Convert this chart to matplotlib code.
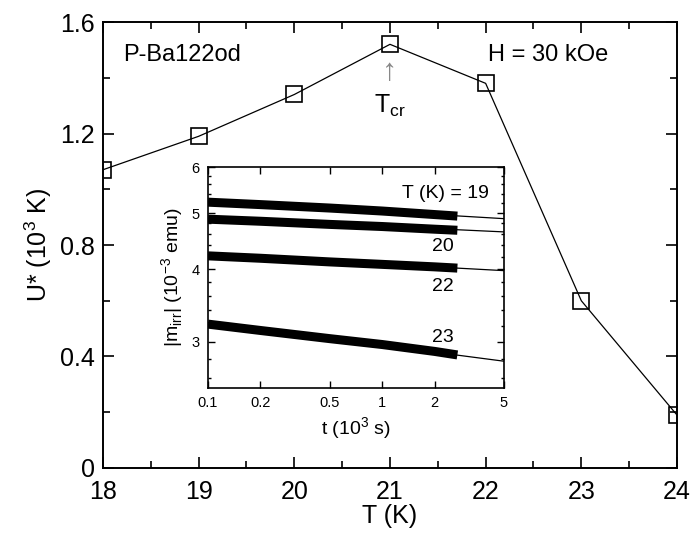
import matplotlib.pyplot as plt
from matplotlib.ticker import FixedLocator, NullFormatter

plt.rcParams['font.family'] = ['Liberation Sans', 'DejaVu Sans']
plt.rcParams['mathtext.fontset'] = 'custom'
plt.rcParams['mathtext.rm'] = 'Liberation Sans'

# -------------------------
# Data
# -------------------------
temps = [18, 19, 20, 21, 22, 23, 24]
u_star = [1.07, 1.19, 1.34, 1.52, 1.38, 0.60, 0.19]

# relaxation curves (inset)
t_meas = [0.1, 0.2, 0.5, 1.0, 2.0, 2.7]
m_19 = [5.22, 5.17, 5.10, 5.04, 4.97, 4.94]
m_20 = [4.88, 4.84, 4.78, 4.74, 4.69, 4.67]
m_22 = [4.22, 4.18, 4.12, 4.08, 4.04, 4.02]
m_23 = [3.22, 3.14, 3.04, 2.97, 2.89, 2.85]

t_fit = [0.1, 5.0]
fit_19 = [5.24, 4.89]
fit_20 = [4.90, 4.64]
fit_22 = [4.24, 3.98]
fit_23 = [3.24, 2.78]

inset_labels = ['T (K) = 19', '20', '22', '23']

# -------------------------
# Main plot
# -------------------------
fig = plt.figure(figsize=(6.92, 5.36), dpi=100)
ax = fig.add_axes([0.1488, 0.1269, 0.8295, 0.832])

ax.plot(temps, u_star, color='black', linewidth=0.9, marker='s', markersize=11,
        markerfacecolor='none', markeredgecolor='black', markeredgewidth=1.2, zorder=3)

ax.set_xlim(18, 24)
ax.set_ylim(0, 1.6)
ax.set_xticks([18, 19, 20, 21, 22, 23, 24])
ax.set_yticks([0, 0.4, 0.8, 1.2, 1.6])
ax.set_yticklabels(['0', '0.4', '0.8', '1.2', '1.6'])
ax.xaxis.set_minor_locator(FixedLocator([18.5, 19.5, 20.5, 21.5, 22.5, 23.5]))
ax.yaxis.set_minor_locator(FixedLocator([0.2, 0.6, 1.0, 1.4]))
ax.tick_params(which='both', direction='in', top=True, right=True, width=1.2)
ax.tick_params(which='major', length=8, labelsize=18)
ax.tick_params(axis='x', which='major', pad=9)
ax.tick_params(axis='y', which='major', pad=6)
ax.tick_params(which='minor', length=5)
for sp in ax.spines.values():
    sp.set_linewidth(1.4)

ax.set_xlabel('T (K)', fontsize=18, labelpad=0)
ax.set_ylabel(r'U* (10$^{3}$ K)', fontsize=18, labelpad=4)

ax.text(0.035, 0.925, 'P-Ba122od', transform=ax.transAxes, fontsize=17, va='center')
ax.text(0.67, 0.925, 'H = 30 kOe', transform=ax.transAxes, fontsize=17, va='center')
ax.text(21, 1.42, '\u2191', ha='center', va='center', fontsize=22, color='#888888')
ax.text(21, 1.30, r'T$_{\rm cr}$', ha='center', va='center', fontsize=18)

# -------------------------
# Inset
# -------------------------
ins = fig.add_axes([0.3006, 0.2761, 0.4277, 0.4123])
for m_vals, fit_vals in [(m_19, fit_19), (m_20, fit_20), (m_22, fit_22), (m_23, fit_23)]:
    ins.plot(t_fit, fit_vals, color='black', linewidth=0.9)
    ins.plot(t_meas, m_vals, color='black', linewidth=6.5, solid_capstyle='butt')

ins.set_xscale('log')
ins.set_yscale('log')
ins.set_xlim(0.1, 5)
ins.set_ylim(2.5, 6)
ins.xaxis.set_major_locator(FixedLocator([0.1, 0.2, 0.5, 1, 2, 5]))
ins.set_xticklabels(['0.1', '0.2', '0.5', '1', '2', '5'])
ins.xaxis.set_minor_formatter(NullFormatter())
ins.xaxis.set_minor_locator(FixedLocator([]))
ins.yaxis.set_major_locator(FixedLocator([3, 4, 5, 6]))
ins.set_yticklabels(['3', '4', '5', '6'])
ins.yaxis.set_minor_locator(FixedLocator([2.6, 2.8, 3.2, 3.4, 3.6, 3.8, 4.2, 4.4, 4.6, 4.8,
                                          5.2, 5.4, 5.6, 5.8]))
ins.yaxis.set_minor_formatter(NullFormatter())
ins.tick_params(which='both', direction='in', top=True, right=True, width=1.0)
ins.tick_params(which='major', length=5, labelsize=10.5, pad=6)
ins.tick_params(which='minor', length=2.5)
for sp in ins.spines.values():
    sp.set_linewidth(1.2)

ins.set_xlabel(r't (10$^{3}$ s)', fontsize=14, labelpad=4)
ins.set_ylabel(r'|m$_{\rm irr}$| (10$^{-3}$ emu)', fontsize=14, labelpad=4)

label_pos = [(0.95, 0.88), (0.83, 0.64), (0.83, 0.46), (0.83, 0.23)]
for txt, (x, y) in zip(inset_labels, label_pos):
    ins.text(x, y, txt, transform=ins.transAxes, fontsize=14, ha='right', va='center')

fig.savefig('out.png', dpi=100)
